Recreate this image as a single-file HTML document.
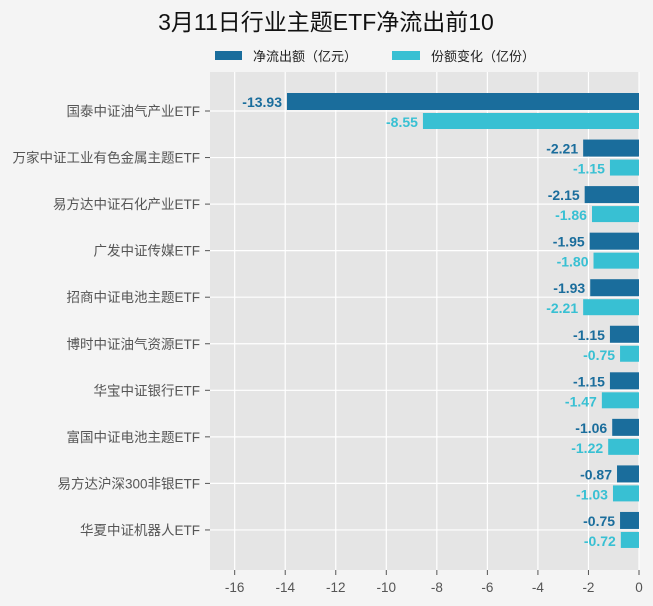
<!DOCTYPE html>
<html><head><meta charset="utf-8"><style>body{margin:0;background:#f4f4f4}svg{display:block}</style></head><body>
<svg width="653" height="606" xmlns="http://www.w3.org/2000/svg" font-family="'Liberation Sans','Noto Sans CJK SC',sans-serif">
<rect width="653" height="606" fill="#f4f4f4"/>
<text x="326" y="30" font-size="23" text-anchor="middle" fill="#111">3月11日行业主题ETF净流出前10</text>
<rect x="215" y="51" width="27" height="9" fill="#1a6d9c"/>
<text x="253" y="61" font-size="13" fill="#222">净流出额（亿元）</text>
<rect x="392" y="51" width="28" height="9" fill="#38c0d3"/>
<text x="431" y="61" font-size="13" fill="#222">份额变化（亿份）</text>
<rect x="210" y="72" width="429" height="498" fill="#e5e5e5"/>
<g id="g"></g>
<g fill="#555" font-size="13.5" text-anchor="middle" id="t"></g>
<g id="b"></g>
</svg>
<script>
var ns="http://www.w3.org/2000/svg";
function el(p,n,a,t){var e=document.createElementNS(ns,n);for(var k in a)e.setAttribute(k,a[k]);if(t!=null)e.textContent=t;p.appendChild(e);return e;}
var X=function(v){return 639+v*25.27;};
var g=document.getElementById('g'),t=document.getElementById('t'),b=document.getElementById('b');
for(var v=-16;v<=0;v+=2){var x=X(v);el(g,'line',{x1:x,x2:x,y1:72,y2:570,stroke:'#fff','stroke-width':1.2});el(g,'line',{x1:x,x2:x,y1:570,y2:575,stroke:'#555'});el(t,'text',{x:x,y:592},String(v));}
var names=['国泰中证油气产业ETF','万家中证工业有色金属主题ETF','易方达中证石化产业ETF','广发中证传媒ETF','招商中证电池主题ETF','博时中证油气资源ETF','华宝中证银行ETF','富国中证电池主题ETF','易方达沪深300非银ETF','华夏中证机器人ETF'];
var d=[13.93,2.21,2.15,1.95,1.93,1.15,1.15,1.06,0.87,0.75];
var l=[8.55,1.15,1.86,1.80,2.21,0.75,1.47,1.22,1.03,0.72];
for(var i=0;i<10;i++){var c=111+46.55*i;
el(g,'line',{x1:210,x2:639,y1:c,y2:c,stroke:'#fff','stroke-width':1.2});
el(g,'line',{x1:205,x2:210,y1:c,y2:c,stroke:'#555'});
el(g,'text',{x:200,y:c+5,'font-size':13.5,fill:'#555','text-anchor':'end'},names[i]);
var x1=X(-d[i]);el(b,'rect',{x:x1,y:c-18,width:639-x1,height:17,fill:'#1a6d9c'});
el(b,'text',{x:x1-5,y:c-4,'font-size':14,'font-weight':'bold',fill:'#1a6d9c','text-anchor':'end'},'-'+d[i].toFixed(2));
var x2=X(-l[i]);el(b,'rect',{x:x2,y:c+2,width:639-x2,height:16,fill:'#38c0d3'});
el(b,'text',{x:x2-5,y:c+16,'font-size':14,'font-weight':'bold',fill:'#38c0d3','text-anchor':'end'},'-'+l[i].toFixed(2));}
</script>
</body></html>
